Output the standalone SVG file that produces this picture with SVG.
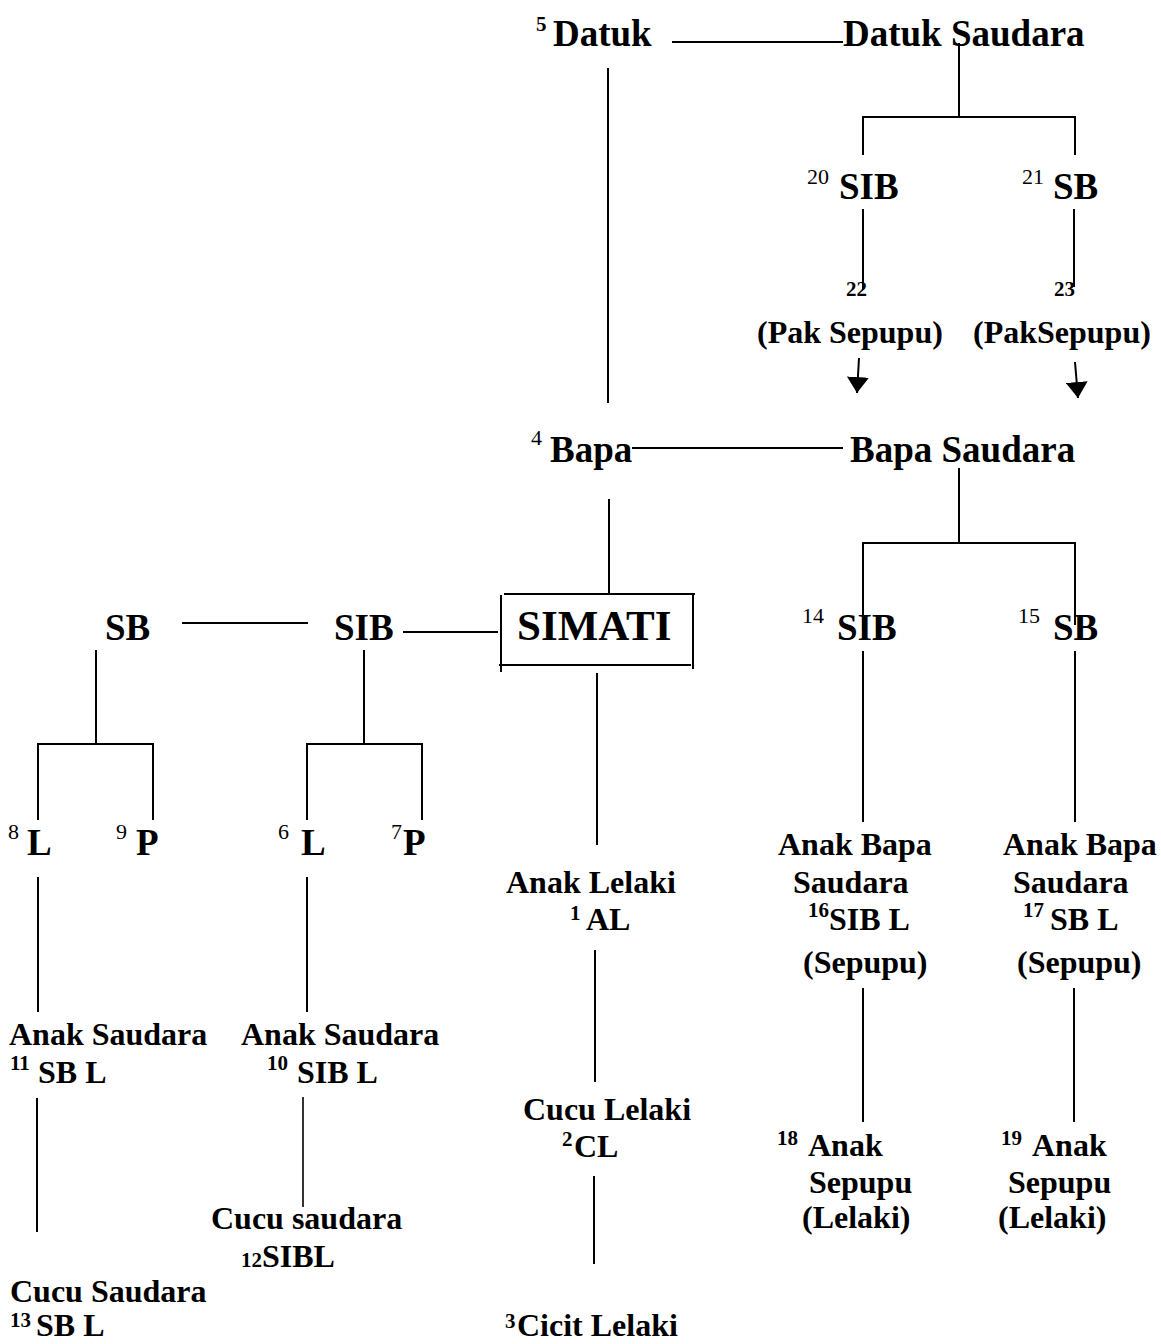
<svg xmlns="http://www.w3.org/2000/svg" width="1161" height="1344" viewBox="0 0 1161 1344">
<style>
text{font-family:"Liberation Serif","Times New Roman",serif;font-weight:bold;fill:#000}
.big{font-size:37px}
.mid{font-size:32px}
.sup{font-size:21px}
.supn{font-size:22px;font-weight:normal}
.ttl{font-size:43px}
line{stroke:#000;stroke-width:2}
</style>
<defs>
<marker id="ah" markerUnits="userSpaceOnUse" markerWidth="17" markerHeight="22" refX="16" refY="11" orient="auto">
<path d="M0,0 L16,11 L0,22 Z" fill="#000"/>
</marker>
</defs>
<rect width="1161" height="1344" fill="#fff"/>
<g id="connectors">
<line x1="672" y1="42" x2="843" y2="42"/>
<line x1="608" y1="68" x2="608" y2="403"/>
<line x1="959" y1="43" x2="959" y2="118"/>
<line x1="863" y1="117" x2="1075" y2="117"/>
<line x1="863" y1="116" x2="863" y2="155"/>
<line x1="1075" y1="116" x2="1075" y2="155"/>
<line x1="863" y1="209" x2="863" y2="290"/>
<line x1="1074" y1="209" x2="1074" y2="287"/>
<line x1="859" y1="358" x2="857" y2="393" marker-end="url(#ah)"/>
<line x1="1075" y1="362" x2="1078" y2="398" marker-end="url(#ah)"/>
<line x1="632" y1="448" x2="843" y2="448"/>
<line x1="609" y1="499" x2="609" y2="595"/>
<line x1="959" y1="468" x2="959" y2="543"/>
<line x1="863" y1="543" x2="1075" y2="543"/>
<line x1="863" y1="542" x2="863" y2="630"/>
<line x1="1075" y1="542" x2="1075" y2="625"/>
<line x1="182" y1="623" x2="308" y2="623"/>
<line x1="403" y1="632" x2="498" y2="632"/>
<line x1="96" y1="650" x2="96" y2="744"/>
<line x1="38" y1="744" x2="153" y2="744"/>
<line x1="38" y1="743" x2="38" y2="820"/>
<line x1="153" y1="743" x2="153" y2="820"/>
<line x1="364" y1="650" x2="364" y2="744"/>
<line x1="307" y1="744" x2="422" y2="744"/>
<line x1="307" y1="743" x2="307" y2="820"/>
<line x1="422" y1="743" x2="422" y2="820"/>
<line x1="38" y1="877" x2="38" y2="1012"/>
<line x1="307" y1="877" x2="307" y2="1012"/>
<line x1="37" y1="1098" x2="37" y2="1232"/>
<line x1="303" y1="1097" x2="303" y2="1207" style="stroke-width:1.6"/>
<line x1="597" y1="673" x2="597" y2="845"/>
<line x1="595" y1="950" x2="595" y2="1082"/>
<line x1="594" y1="1176" x2="594" y2="1264"/>
<line x1="863" y1="651" x2="863" y2="822"/>
<line x1="1075" y1="651" x2="1075" y2="822"/>
<line x1="863" y1="988" x2="863" y2="1122"/>
<line x1="1074" y1="988" x2="1074" y2="1122"/>
</g>
<g id="datuk"><text class="sup" x="536" y="31">5</text><text class="big" x="553" y="46">Datuk</text></g>
<g id="datuk-saudara"><text class="big" x="843" y="46">Datuk Saudara</text></g>
<g id="sib20"><text class="supn" x="807" y="184">20</text><text class="big" x="839" y="199">SIB</text></g>
<g id="sb21"><text class="supn" x="1022" y="184">21</text><text class="big" x="1053" y="199">SB</text></g>
<g id="pak22"><text class="sup" x="846" y="296">22</text><text class="mid" x="757" y="343">(Pak Sepupu)</text></g>
<g id="pak23"><text class="sup" x="1054" y="296">23</text><text class="mid" x="973" y="343">(PakSepupu)</text></g>
<g id="bapa"><text class="supn" x="531" y="445">4</text><text class="big" x="550" y="462">Bapa</text></g>
<g id="bapa-saudara"><text class="big" x="850" y="462">Bapa Saudara</text></g>
<g id="simati">
<line x1="504" y1="594" x2="695" y2="594"/>
<line x1="501" y1="595" x2="501" y2="672"/>
<line x1="499" y1="665" x2="691" y2="665"/>
<line x1="693" y1="593" x2="693" y2="669"/>
<text class="ttl" x="517" y="640">SIMATI</text>
</g>
<g id="sib14"><text class="supn" x="802" y="623">14</text><text class="big" x="837" y="640">SIB</text></g>
<g id="sb15"><text class="supn" x="1018" y="623">15</text><text class="big" x="1053" y="640">SB</text></g>
<g id="sb-left"><text class="big" x="105" y="640">SB</text></g>
<g id="sib-left"><text class="big" x="334" y="640">SIB</text></g>
<g id="l8"><text class="supn" x="8" y="839">8</text><text class="big" x="27" y="855">L</text></g>
<g id="p9"><text class="supn" x="116" y="839">9</text><text class="big" x="136" y="855">P</text></g>
<g id="l6"><text class="supn" x="278" y="839">6</text><text class="big" x="301" y="855">L</text></g>
<g id="p7"><text class="supn" x="391" y="839">7</text><text class="big" x="403" y="855">P</text></g>
<g id="as11"><text class="mid" x="9" y="1045">Anak Saudara</text><text class="sup" x="10" y="1070">11</text><text class="mid" x="38" y="1083">SB L</text></g>
<g id="as10"><text class="mid" x="241" y="1045">Anak Saudara</text><text class="sup" x="267" y="1070">10</text><text class="mid" x="297" y="1083">SIB L</text></g>
<g id="cs12"><text class="mid" x="211" y="1229">Cucu saudara</text><text class="sup" x="241" y="1267">12</text><text class="mid" x="262" y="1267">SIBL</text></g>
<g id="cs13"><text class="mid" x="10" y="1302">Cucu Saudara</text><text class="sup" x="10" y="1327">13</text><text class="mid" x="36" y="1336">SB L</text></g>
<g id="al1"><text class="mid" x="506" y="893">Anak Lelaki</text><text class="sup" x="570" y="920">1</text><text class="mid" x="586" y="930">AL</text></g>
<g id="cl2"><text class="mid" x="523" y="1120">Cucu Lelaki</text><text class="sup" x="562" y="1146">2</text><text class="mid" x="574" y="1157">CL</text></g>
<g id="cicit3"><text class="sup" x="505" y="1328">3</text><text class="mid" x="517" y="1336">Cicit Lelaki</text></g>
<g id="abs16"><text class="mid" x="778" y="855">Anak Bapa</text><text class="mid" x="793" y="893">Saudara</text><text class="sup" x="808" y="917">16</text><text class="mid" x="829" y="930">SIB L</text><text class="mid" x="803" y="973">(Sepupu)</text></g>
<g id="abs17"><text class="mid" x="1003" y="855">Anak Bapa</text><text class="mid" x="1013" y="893">Saudara</text><text class="sup" x="1023" y="917">17</text><text class="mid" x="1050" y="930">SB L</text><text class="mid" x="1017" y="973">(Sepupu)</text></g>
<g id="as18"><text class="sup" x="777" y="1145">18</text><text class="mid" x="808" y="1156">Anak</text><text class="mid" x="809" y="1193">Sepupu</text><text class="mid" x="802" y="1228">(Lelaki)</text></g>
<g id="as19"><text class="sup" x="1001" y="1145">19</text><text class="mid" x="1032" y="1156">Anak</text><text class="mid" x="1008" y="1193">Sepupu</text><text class="mid" x="998" y="1228">(Lelaki)</text></g>
</svg>
